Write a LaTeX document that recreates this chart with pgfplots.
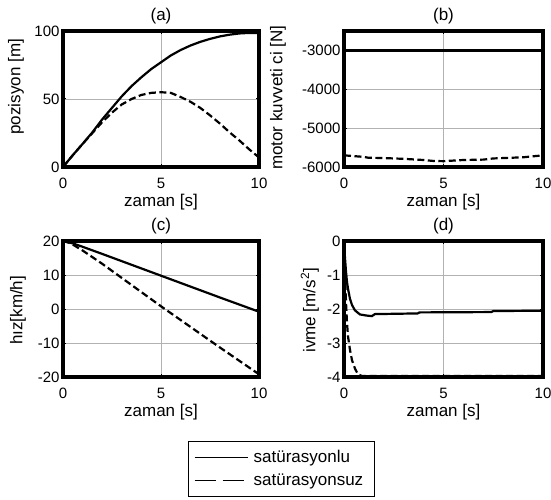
\documentclass[border=0pt]{standalone}
\usepackage{pgfplots}
\pgfplotsset{compat=1.18}
\usepackage{fontspec}
\setmainfont{Liberation Sans}
\tikzset{
  myframe/.style={black, line width=3.2pt, line join=miter},
}
\pgfplotsset{
  mplot/.style={
    scale only axis,
    height=136pt,
    xmin=0, xmax=10,
    xtick={0,5,10},
    grid=major,
    major grid style={draw=black!30, line width=0.9pt},
    axis line style={line width=2.4pt},
    tick style={black, line width=1pt},
    tick align=inside,
    major tick length=3pt,
    /pgf/number format/assume math mode=true,
    /pgf/number format/1000 sep={},
    scaled y ticks=false,
    ticklabel style={font=\fontsize{15}{15}\selectfont},
    xticklabel style={anchor=center, yshift=-16pt},
    label style={font=\fontsize{17}{17}\selectfont},
    every axis title shift=0pt,
    title style={font=\fontsize{17}{17}\selectfont, at={(axis description cs:0.5,1)}, anchor=center, yshift=15pt},
    xlabel={zaman [s]},
    xlabel style={at={(axis description cs:0.5,0)}, anchor=center, yshift=-35pt},
    clip=false,
  },
  solidl/.style={black, line width=2.2pt},
  dashl/.style={black, line width=2.2pt, dash pattern=on 7pt off 3.5pt},
}
\begin{document}
\begin{tikzpicture}[x=1pt,y=1pt]
\useasboundingbox (0,0) rectangle (551,499);
% (a)
\begin{axis}[mplot, at={(63pt,332pt)}, anchor=south west, width=196pt,
  ymin=0, ymax=100, ytick={0,50,100}, title={(a)}, ylabel={pozisyon [m]},
  ylabel style={at={(axis description cs:-0.240,0.59)}, anchor=center}]
\addplot[solidl] coordinates {(0,0) (0.5,8.7) (1,17) (1.5,25.5) (2,35) (2.5,43.5) (3,52) (3.5,59.5) (4,66) (4.5,72) (5,77) (5.5,82) (6,86) (6.5,89.3) (7,92) (7.5,94.2) (8,96) (8.5,97.3) (9,98.2) (9.5,98.6) (10,98.6)};
\addplot[dashl] coordinates {(0,0) (0.5,8.7) (1,17) (1.5,25) (2,33) (2.5,40) (3,46) (3.5,50) (4,53) (4.5,54.5) (5,55) (5.5,54.5) (6,51.5) (6.5,48) (7,43.5) (7.5,38) (8,32) (8.5,25.5) (9,19.5) (9.5,13) (10,7)};
\draw[myframe] (rel axis cs:0,0) rectangle (rel axis cs:1,1);
\end{axis}
% (b)
\begin{axis}[mplot, at={(344pt,332pt)}, anchor=south west, width=199pt,
  ymin=-6000, ymax=-2500, ytick={-6000,-5000,-4000,-3000}, title={(b)}, ylabel={motor kuvveti ci [N]},
  ylabel style={at={(axis description cs:-0.332,0.51)}, anchor=center}]
\addplot[solidl] coordinates {(0,-3000) (10,-3000)};
\addplot[dashl] coordinates {(0,-5700) (1,-5740) (1.2,-5760) (2,-5770) (3,-5790) (4,-5820) (4.5,-5845) (5,-5850) (6,-5820) (7,-5810) (7.5,-5780) (8,-5770) (9,-5750) (10,-5700)};
\draw[myframe] (rel axis cs:0,0) rectangle (rel axis cs:1,1);
\end{axis}
% (c)
\begin{axis}[mplot, at={(63pt,122pt)}, anchor=south west, width=196pt,
  ymin=-20, ymax=20, ytick={-20,-10,0,10,20}, title={(c)}, ylabel={hız[km/h]},
  ylabel style={at={(axis description cs:-0.230,0.49)}, anchor=center},
  legend style={at={(axis description cs:1.115,-0.673)}, anchor=center, draw=black, line width=0.8pt,
    font=\fontsize{17}{17}\selectfont, inner xsep=6pt, inner ysep=7pt, row sep=6pt,
    nodes={inner xsep=5.5pt}},
  legend cell align=left,
  legend image code/.code={\draw[#1] (0pt,0pt) -- (53pt,0pt);}]
\addplot[solidl, forget plot] coordinates {(0,20) (0.5,19.3) (1,18.3) (2,16.2) (5,9.8) (8,3.4) (10,-0.8)};
\addplot[dashl, forget plot] coordinates {(0,20) (0.3,19.5) (0.6,18.6) (1,17.2) (2,13.3) (5,0.8) (8,-11.3) (10,-19.2)};
\draw[myframe] (rel axis cs:0,0) rectangle (rel axis cs:1,1);
\addlegendimage{black, line width=0.8pt}
\addlegendentry{satürasyonlu}
\addlegendimage{black, line width=0.8pt, dash pattern=on 21pt off 7pt}
\addlegendentry{satürasyonsuz}
\end{axis}
% (d)
\begin{axis}[mplot, at={(344pt,122pt)}, anchor=south west, width=199pt,
  ymin=-4, ymax=0, ytick={-4,-3,-2,-1,0}, title={(d)}, ylabel={ivme [m/s\textsuperscript{2}]},
  ylabel style={at={(axis description cs:-0.171,0.49)}, anchor=center}]
\addplot[solidl] coordinates {(0,0) (0.05,-0.5) (0.1,-0.9) (0.15,-1.2) (0.2,-1.4) (0.3,-1.7) (0.4,-1.88) (0.55,-2.04) (0.8,-2.16) (1.1,-2.19) (1.4,-2.21) (1.55,-2.15) (3.7,-2.13) (3.8,-2.1) (7.4,-2.09) (7.5,-2.06) (10,-2.05)};
\addplot[dashl] coordinates {(0,0) (0.05,-0.8) (0.1,-1.8) (0.15,-2.4) (0.2,-2.8) (0.3,-3.2) (0.4,-3.5) (0.55,-3.75) (0.7,-3.92) (0.9,-3.97) (10,-3.97)};
\draw[myframe] (rel axis cs:0,0) rectangle (rel axis cs:1,1);
\end{axis}
\end{tikzpicture}
\end{document}
